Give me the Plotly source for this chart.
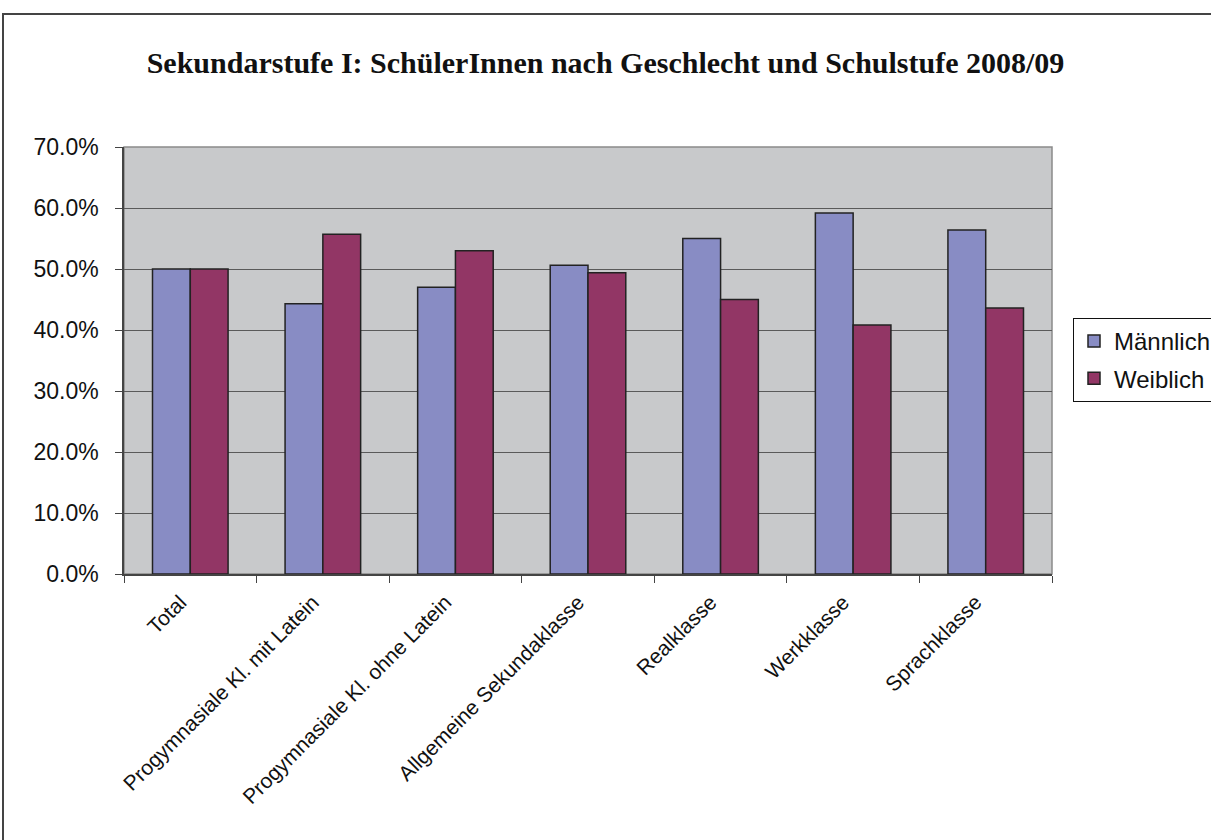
import plotly.graph_objects as go

categories = ["Total", "Progymnasiale Kl. mit Latein", "Progymnasiale Kl. ohne Latein",
              "Allgemeine Sekundaklasse", "Realklasse", "Werkklasse", "Sprachklasse"]
maennlich = [0.500, 0.443, 0.470, 0.506, 0.550, 0.592, 0.564]
weiblich = [0.500, 0.557, 0.530, 0.494, 0.450, 0.408, 0.436]
series_names = ["Männlich", "Weiblich"]
y_ticks = [0.0, 0.1, 0.2, 0.3, 0.4, 0.5, 0.6, 0.7]

W, H = 1211, 840
L, R, T, B = 124, 1052, 147, 574

fig = go.Figure()
fig.add_trace(go.Bar(x=categories, y=maennlich, name=series_names[0], legendgroup="m",
                     marker=dict(color="#888CC4", line=dict(color="#222222", width=1.5))))
fig.add_trace(go.Bar(x=categories, y=weiblich, name=series_names[1], legendgroup="w",
                     marker=dict(color="#923665", line=dict(color="#222222", width=1.5))))

def px_x(p):
    return (p - L) / (R - L)

def px_y(p):
    return (B - p) / (B - T)

fig.update_layout(
    width=W, height=H,
    margin=dict(l=L, r=W - R, t=T, b=H - B, autoexpand=False),
    paper_bgcolor="white",
    plot_bgcolor="#C8C9CB",
    bargap=0.43, bargroupgap=0,
    font=dict(family="Liberation Sans, Arial, sans-serif", size=22, color="#111111"),
    title=dict(text="<b>Sekundarstufe I: SchülerInnen nach Geschlecht und Schulstufe 2008/09</b>",
               x=0.5, xanchor="center", y=1 - 62 / H, yanchor="middle",
               font=dict(family="Liberation Serif, Times New Roman, serif", size=30, color="#111111")),
    legend=dict(x=px_x(1073), y=px_y(318), xanchor="left", yanchor="top",
                bgcolor="white", bordercolor="#111111", borderwidth=1,
                font=dict(family="Liberation Sans, Arial, sans-serif", size=24, color="#111111"),
                itemwidth=30, tracegroupgap=3),
    showlegend=True,
)

fig.update_xaxes(
    type="category", tickson="boundaries", ticks="outside", ticklen=7,
    tickcolor="#444444", tickangle=-45, showgrid=False,
    showline=True, linecolor="#444444", linewidth=1.5,
    ticklabelshift=-10, ticklabelstandoff=6,
    tickfont=dict(size=21),
)
fig.update_yaxes(
    range=[0, 0.7], tickvals=y_ticks, tickformat=".1%",
    ticks="outside", ticklen=7, tickcolor="#444444", ticklabelstandoff=12,
    showgrid=True, gridcolor="#5A5A5A", gridwidth=1.2,
    showline=True, linecolor="#444444", linewidth=1.5, zeroline=False,
    tickfont=dict(size=23),
)

# plot-area border (top/right)
fig.add_shape(type="rect", xref="paper", yref="paper", x0=0, y0=0, x1=1, y1=1,
              line=dict(color="#8A8A8A", width=1.5), layer="below")
# outer chart border
fig.add_shape(type="rect", xref="paper", yref="paper",
              x0=px_x(3), x1=px_x(1220), y0=px_y(14), y1=px_y(850),
              line=dict(color="#444444", width=2))

fig.write_html("out.html", config={"displayModeBar": False},
               post_script="document.body.style.margin='0';document.body.style.overflow='hidden';")
